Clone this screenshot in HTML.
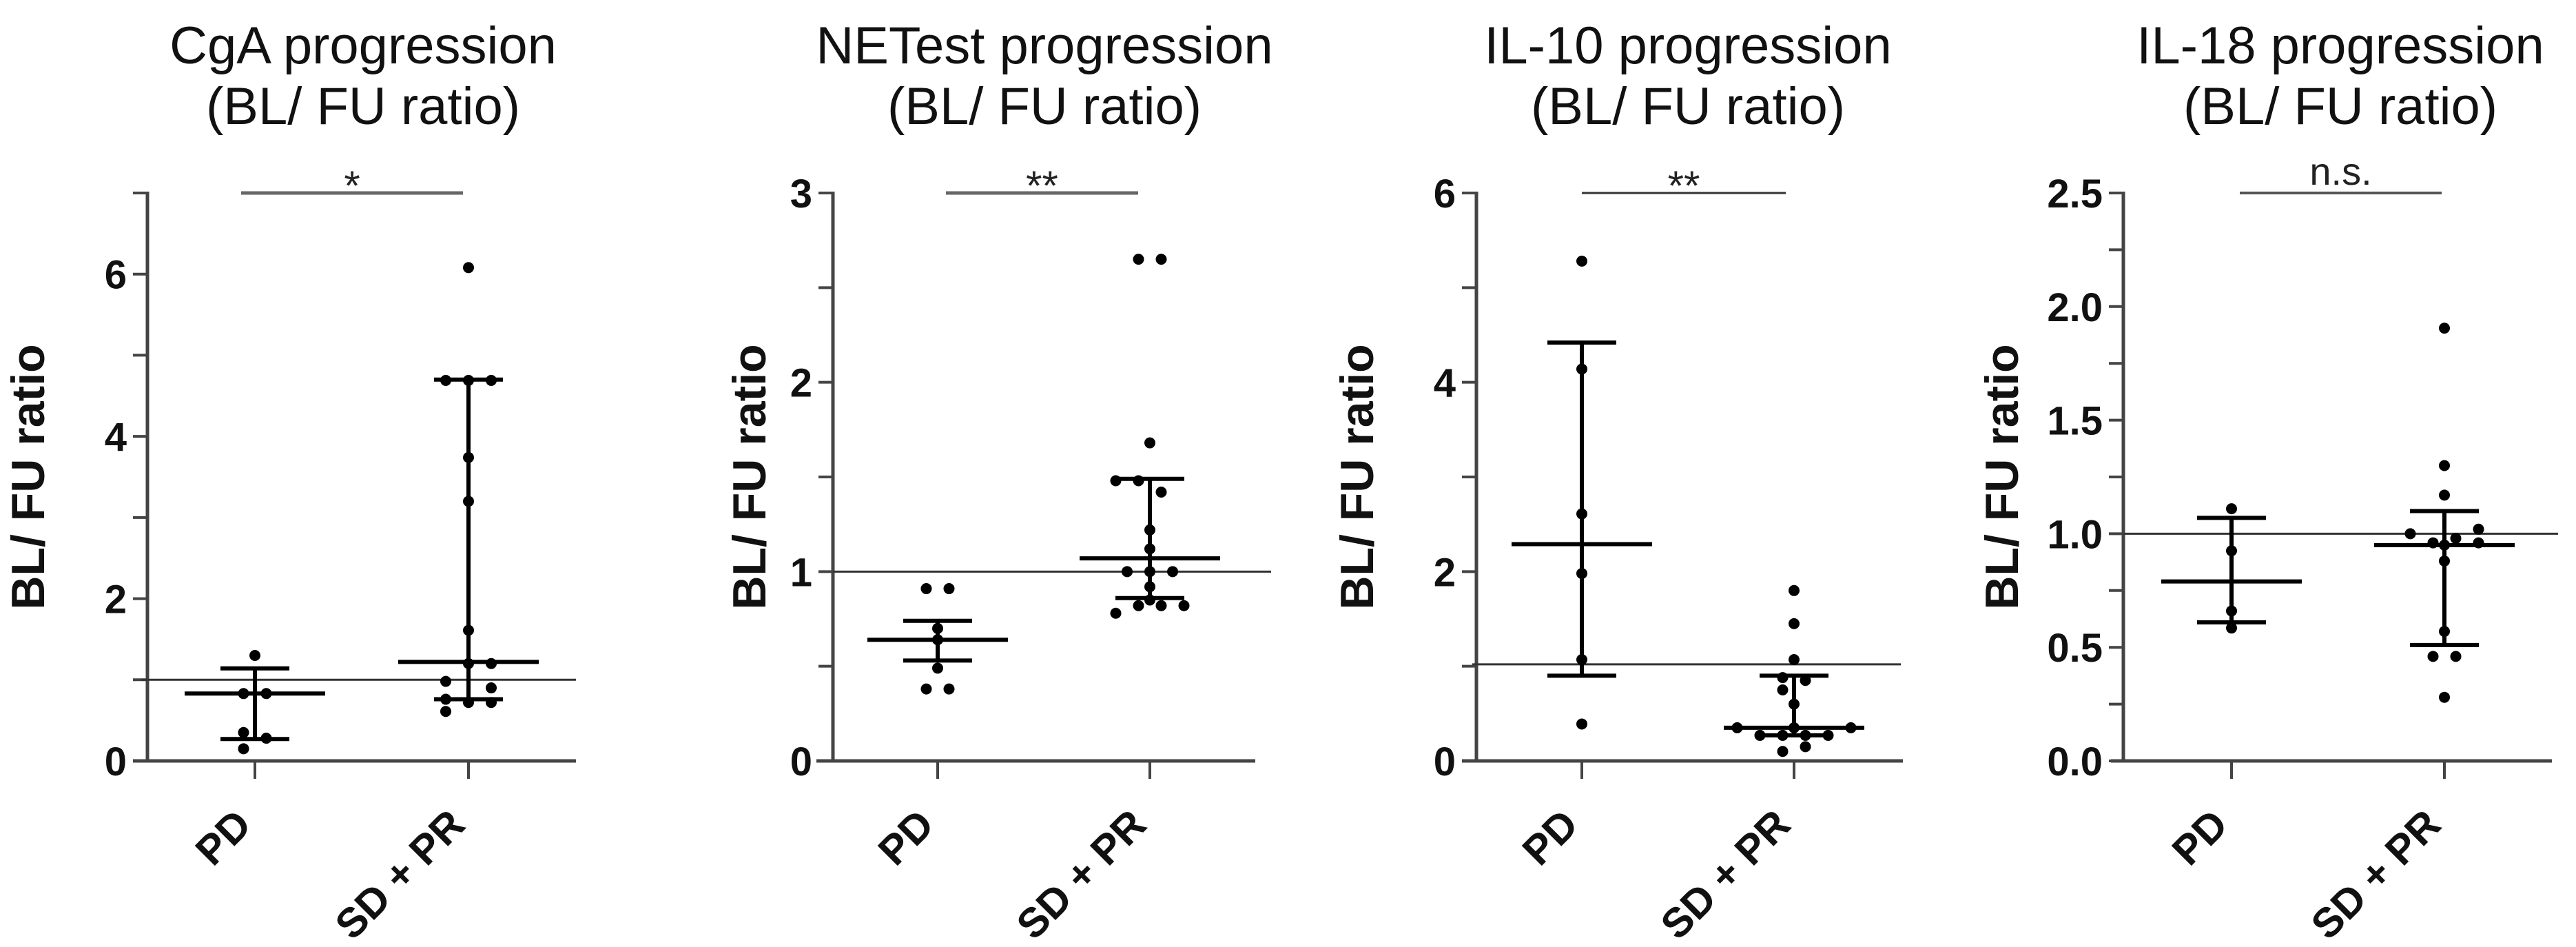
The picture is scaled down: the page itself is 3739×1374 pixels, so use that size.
<!DOCTYPE html>
<html><head><meta charset="utf-8">
<style>
html,body{margin:0;padding:0;background:#fff;}
svg{display:block;}
text{font-family:"Liberation Sans",Arial,sans-serif;}
</style></head>
<body>
<svg id="fig" width="3739" height="1374" viewBox="0 0 3739 1374" xmlns="http://www.w3.org/2000/svg"></svg>
<script>
// ---- data ----
const categories = ["PD", "SD + PR"];
const titles = ["CgA progression", "NETest progression", "IL-10 progression", "IL-18 progression"];
const sigLabels = ["*", "**", "**", "n.s."];
const yMaxes = [7, 3, 6, 2.5];
const refValues = [1, 1, 1.02, 1];
const tickLabels1 = ["0", "2", "4", "6"];
const tickLabels2 = ["0", "1", "2", "3"];
const tickLabels3 = ["0", "2", "4", "6"];
const tickLabels4 = ["0.0", "0.5", "1.0", "1.5", "2.0", "2.5"];
const labelValues1 = [0, 2, 4, 6];
const labelValues2 = [0, 1, 2, 3];
const labelValues3 = [0, 2, 4, 6];
const labelValues4 = [0, 0.5, 1, 1.5, 2, 2.5];
const minorStep = [1, 0.5, 1, 0.25];

const pd1 = [1.3, 0.83, 0.83, 0.35, 0.28, 0.15];
const pdJ1 = [0, -1, 1, -1, 1, -1];
const sd1 = [6.08, 4.69, 4.69, 4.69, 3.74, 3.2, 1.61, 1.2, 1.2, 0.98, 0.9, 0.76, 0.72, 0.72, 0.61];
const sdJ1 = [0, -2, 0, 2, 0, 0, 0, 0, 2, -2, 2, -2, 0, 2, -2];
const pdStats1 = [0.27, 0.83, 1.14];
const sdStats1 = [0.76, 1.22, 4.7];

const pd2 = [0.91, 0.91, 0.70, 0.64, 0.49, 0.38, 0.38];
const pdJ2 = [-1, 1, 0, 0, 0, -1, 1];
const sd2 = [2.65, 2.65, 1.68, 1.48, 1.48, 1.42, 1.22, 1.12, 1.0, 1.0, 1.0, 0.92, 0.85, 0.82, 0.82, 0.82, 0.78];
const sdJ2 = [-1, 1, 0, -3, -1, 1, 0, 0, -2, 0, 2, 0, 0, -1, 1, 3, -3];
const pdStats2 = [0.53, 0.64, 0.74];
const sdStats2 = [0.86, 1.07, 1.49];

const pd3 = [5.28, 4.14, 2.61, 1.98, 1.07, 0.39];
const pdJ3 = [0, 0, 0, 0, 0, 0];
const sd3 = [1.8, 1.45, 1.07, 0.88, 0.85, 0.75, 0.6, 0.35, 0.35, 0.35, 0.27, 0.27, 0.27, 0.27, 0.15, 0.1];
const sdJ3 = [0, 0, 0, -1, 1, -1, 0, -5, 0, 5, -3, -1, 1, 3, 1, -1];
const pdStats3 = [0.9, 2.29, 4.42];
const sdStats3 = [0.27, 0.35, 0.9];

const pd4 = [1.11, 0.925, 0.66, 0.585];
const pdJ4 = [0, 0, 0, 0];
const sd4 = [1.905, 1.30, 1.17, 1.0, 0.96, 0.98, 1.02, 0.96, 0.95, 0.88, 0.57, 0.46, 0.46, 0.28];
const sdJ4 = [0, 0, 0, -3, -1, 1, 3, 3, 0, 0, 0, -1, 1, 0];
const pdStats4 = [0.61, 0.79, 1.07];
const sdStats4 = [0.51, 0.95, 1.10];

// ---- layout (pixels) ----
const layouts = [
  {ax:214, x0:193, x1:836, pdX:370, sdX:680, refX0:205, refX1:836, sig0:350, sig1:672, sigW:5, sigC:"#666", titleX:527, ytX:40},
  {ax:1209, x0:1185, x1:1822, pdX:1361, sdX:1669, refX0:1209, refX1:1845, sig0:1373, sig1:1652, sigW:5, sigC:"#666", titleX:1516, ytX:1087},
  {ax:2143, x0:2122, x1:2762, pdX:2296, sdX:2604, refX0:2137, refX1:2759, sig0:2296, sig1:2592, sigW:3, sigC:"#333", titleX:2450, ytX:1969},
  {ax:3082, x0:3064, x1:3704, pdX:3239, sdX:3548, refX0:3082, refX1:3713, sig0:3251, sig1:3544, sigW:4, sigC:"#555", titleX:3397, ytX:2905}
];
const Y0 = 1104, YTOP = 280, JIT = 16.5;

const svg = document.getElementById('fig');
const NS = "http://www.w3.org/2000/svg";
function mk(tag, attrs, parent) {
  const e = document.createElementNS(NS, tag);
  for (const k in attrs) e.setAttribute(k, attrs[k]);
  (parent || svg).appendChild(e);
  return e;
}

const allPd = [pd1, pd2, pd3, pd4], allPdJ = [pdJ1, pdJ2, pdJ3, pdJ4];
const allSd = [sd1, sd2, sd3, sd4], allSdJ = [sdJ1, sdJ2, sdJ3, sdJ4];
const allPdS = [pdStats1, pdStats2, pdStats3, pdStats4], allSdS = [sdStats1, sdStats2, sdStats3, sdStats4];
const allTL = [tickLabels1, tickLabels2, tickLabels3, tickLabels4];
const allLV = [labelValues1, labelValues2, labelValues3, labelValues4];

for (let p = 0; p < 4; p++) {
  const L = layouts[p];
  const yMax = yMaxes[p];
  const yScale = v => Y0 - (v / yMax) * (Y0 - YTOP);
  const g = mk('g', {});
  
  

  // title
  const t = mk('text', {x: L.titleX, 'text-anchor': 'middle', 'font-size': 76, fill: '#111'}, g);
  
  
  const ts1 = mk('tspan', {x: L.titleX, y: 92}, t); ts1.textContent = titles[p];
  const ts2 = mk('tspan', {x: L.titleX, y: 180}, t); ts2.textContent = '(BL/ FU ratio)';

  // y-axis title
  const yt = mk('text', {x: 0, y: 0, transform: `translate(${L.ytX + 24},692) rotate(-90)`, 'text-anchor': 'middle', 'font-size': 68, 'font-weight': 'bold', fill: '#111'}, g);
  
  
  yt.textContent = 'BL/ FU ratio';

  // axes
  const ya = mk('line', {x1: L.ax, y1: YTOP - 2, x2: L.ax, y2: Y0, stroke: '#444', 'stroke-width': 5}, g);
  
  
  const xa = mk('line', {x1: L.x0, y1: Y0, x2: L.x1, y2: Y0, stroke: '#444', 'stroke-width': 5}, g);
  
  

  // y ticks
  const nTicks = Math.round(yMax / minorStep[p]);
  for (let i = 0; i <= nTicks; i++) {
    const v = i * minorStep[p];
    const tk = mk('line', {x1: L.ax - 21, y1: yScale(v), x2: L.ax, y2: yScale(v), stroke: '#444', 'stroke-width': 4}, g);
    
    
  }
  const tl = allTL[p], lv = allLV[p];
  for (let i = 0; i < tl.length; i++) {
    const lab = mk('text', {x: L.ax - 30, y: yScale(lv[i]) + 21, 'text-anchor': 'end', 'font-size': 58, 'font-weight': 'bold', fill: '#111'}, g);
    
    
    lab.textContent = tl[i];
  }

  // x ticks and labels
  const cx = [L.pdX, L.sdX];
  for (let c = 0; c < 2; c++) {
    const tk = mk('line', {x1: cx[c], y1: Y0, x2: cx[c], y2: Y0 + 26, stroke: '#444', 'stroke-width': 4}, g);
    
    
    const lab = mk('text', {x: 0, y: 0, transform: `translate(${cx[c] - 2},1200) rotate(-45)`, 'text-anchor': 'end', 'font-size': 60, 'font-weight': 'bold', fill: '#111'}, g);
    
    
    lab.textContent = categories[c];
  }

  // reference line
  const rl = mk('line', {x1: L.refX0, y1: yScale(refValues[p]), x2: L.refX1, y2: yScale(refValues[p]), stroke: '#333', 'stroke-width': 3}, g);
  
  

  // significance bar
  const sb = mk('line', {x1: L.sig0, y1: YTOP, x2: L.sig1, y2: YTOP, stroke: L.sigC, 'stroke-width': L.sigW}, g);
  
  
  const isNs = sigLabels[p] === 'n.s.';
  const sl = mk('text', {x: (L.sig0 + L.sig1) / 2, y: isNs ? 268 : 290, 'text-anchor': 'middle', 'font-size': isNs ? 56 : 60, fill: '#222'}, g);
  
  
  sl.textContent = sigLabels[p];

  // points + stats
  const groups = [[allPd[p], allPdJ[p], allPdS[p]], [allSd[p], allSdJ[p], allSdS[p]]];
  for (let c = 0; c < 2; c++) {
    const [vals, jit, st] = groups[c];
    const x = cx[c];
    const wl = mk('line', {x1: x, y1: yScale(st[0]), x2: x, y2: yScale(st[2]), stroke: '#000', 'stroke-width': 6}, g);
    
    
    for (const k of [0, 2]) {
      const cap = mk('line', {x1: x - 50, y1: yScale(st[k]), x2: x + 50, y2: yScale(st[k]), stroke: '#000', 'stroke-width': 6}, g);
      
      
    }
    const md = mk('line', {x1: x - 102, y1: yScale(st[1]), x2: x + 102, y2: yScale(st[1]), stroke: '#000', 'stroke-width': 6}, g);
    
    
    for (let i = 0; i < vals.length; i++) {
      const d = mk('circle', {cx: x + jit[i] * JIT, cy: yScale(vals[i]), r: 8, fill: '#000'}, g);
      
      
    }
  }
}
</script>
</body></html>
